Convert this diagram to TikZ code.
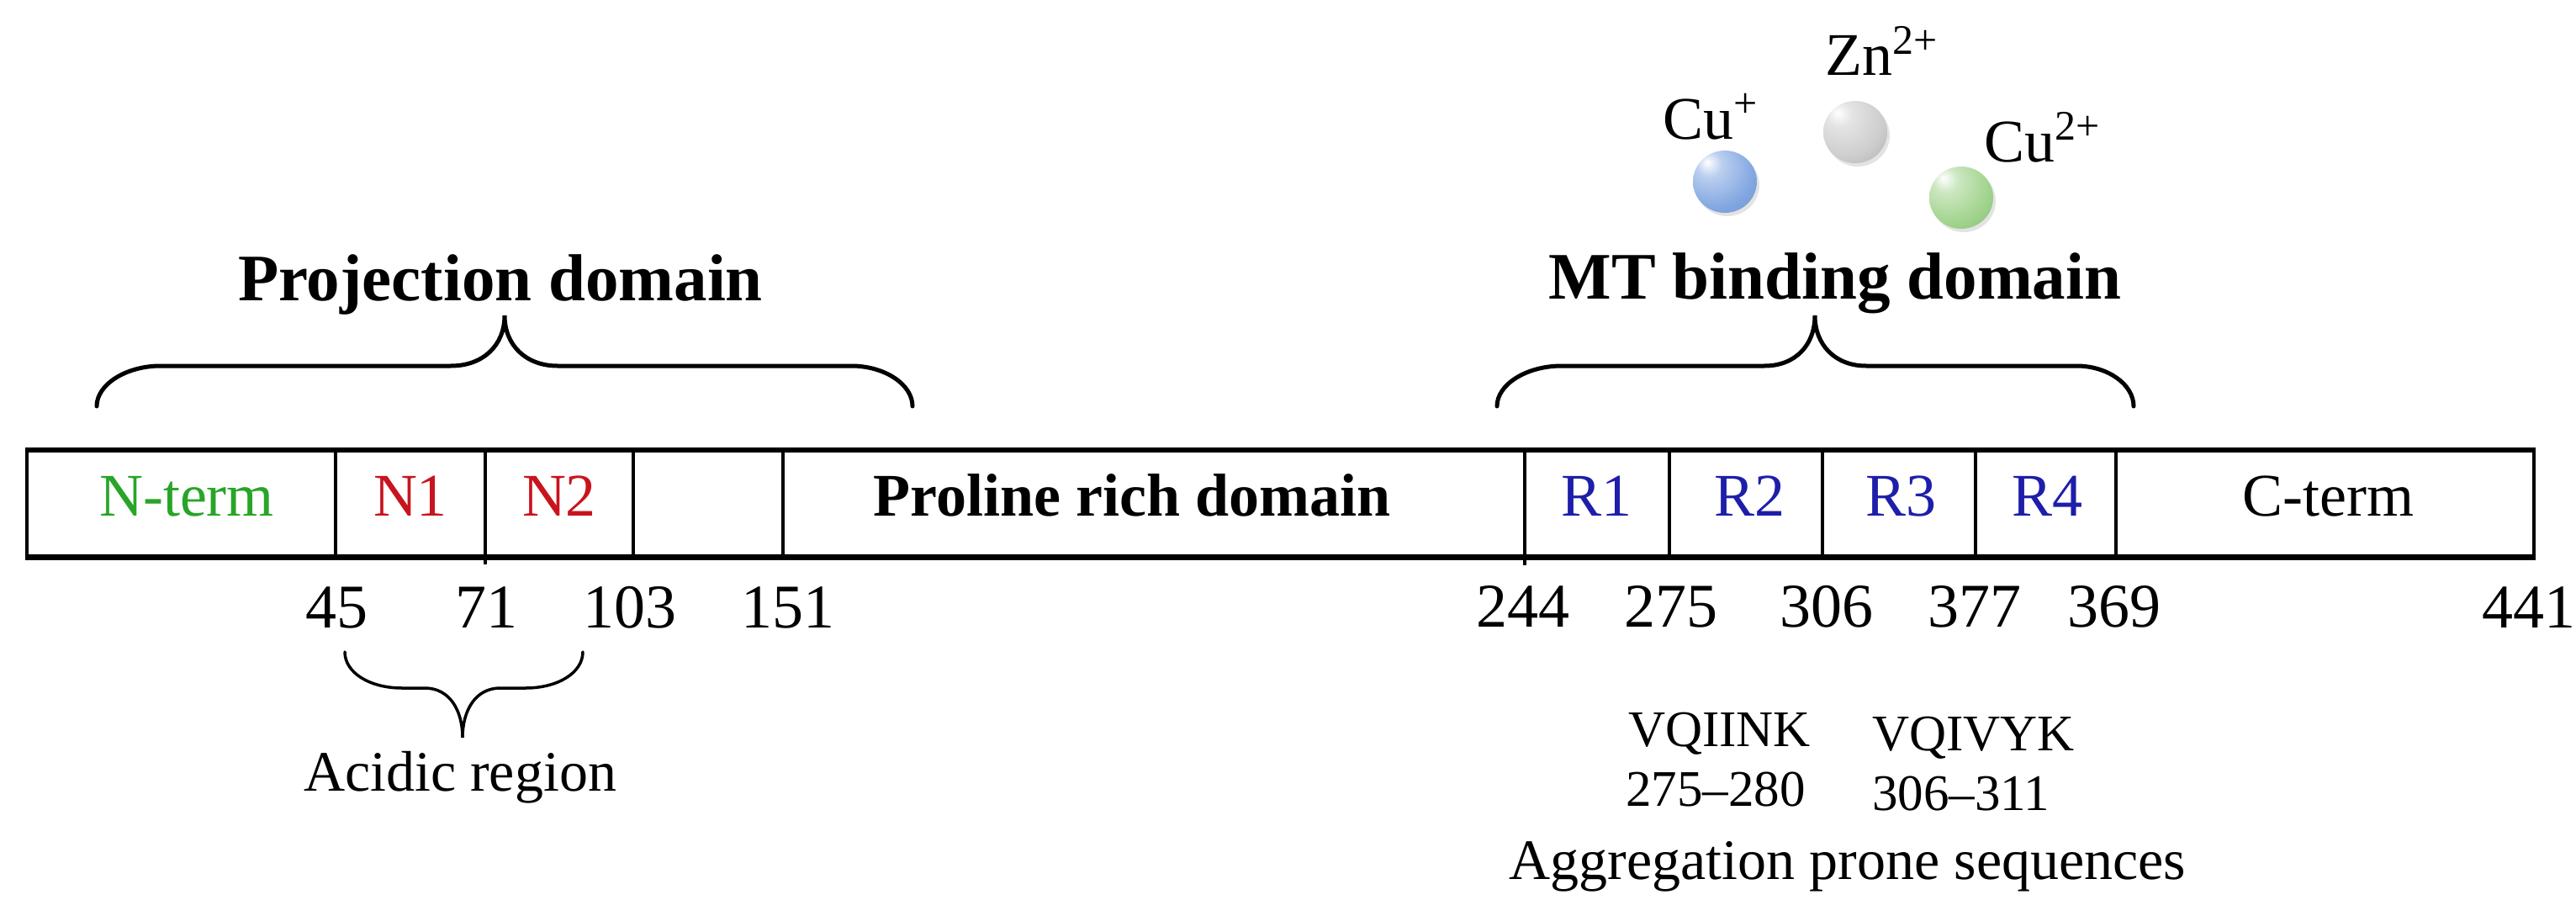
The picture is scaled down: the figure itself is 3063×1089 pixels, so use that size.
\documentclass[tikz,border=0pt]{standalone}
\usepackage{fontspec}
\setmainfont{Liberation Serif}
\usetikzlibrary{shadows}
\definecolor{ntgreen}{RGB}{40,165,40}
\definecolor{nred}{RGB}{200,20,30}
\definecolor{rblue}{RGB}{30,30,170}
\definecolor{ionblue}{RGB}{132,168,226}
\definecolor{ionbluedk}{RGB}{92,128,192}
\definecolor{iongray}{RGB}{205,205,205}
\definecolor{iongraydk}{RGB}{150,150,150}
\definecolor{iongreen}{RGB}{162,212,142}
\definecolor{iongreendk}{RGB}{112,172,96}
\pgfdeclareradialshading{sphblue}{\pgfpoint{-14bp}{16bp}}{color(0bp)=(white); color(10bp)=(ionblue!55!white); color(30bp)=(ionblue); color(58bp)=(ionbluedk); color(80bp)=(ionbluedk)}
\pgfdeclareradialshading{sphgray}{\pgfpoint{-14bp}{16bp}}{color(0bp)=(white); color(10bp)=(iongray!55!white); color(30bp)=(iongray); color(58bp)=(iongraydk); color(80bp)=(iongraydk)}
\pgfdeclareradialshading{sphgreen}{\pgfpoint{-14bp}{16bp}}{color(0bp)=(white); color(10bp)=(iongreen!55!white); color(30bp)=(iongreen); color(58bp)=(iongreendk); color(80bp)=(iongreendk)}
\newcommand{\supchg}[1]{\raisebox{0.36em}{\fontsize{50}{56}\selectfont #1}}
\tikzset{
  every node/.style={inner sep=0pt, outer sep=0pt},
  headtxt/.style={font=\fontsize{79}{90}\selectfont\bfseries, anchor=base},
  boxtxt/.style={font=\fontsize{72}{84}\selectfont, anchor=base},
  boldbox/.style={font=\fontsize{72}{84}\selectfont\bfseries, anchor=base},
  numtxt/.style={font=\fontsize{74}{86}\selectfont, anchor=base},
  smalltxt/.style={font=\fontsize{61}{72}\selectfont, anchor=base west},
  captxt/.style={font=\fontsize{68}{80}\selectfont, anchor=base},
  iontxt/.style={font=\fontsize{72}{84}\selectfont, anchor=base west},
  barline/.style={line width=6pt},
  divline/.style={line width=4.5pt},
  bracepath/.style={line width=5pt, line cap=round},
  ionball/.style={ellipse, minimum width=76pt, minimum height=74pt, shading=#1,
    drop shadow={opacity=0.22, shadow xshift=3pt, shadow yshift=-4pt}}
}
\usetikzlibrary{shapes.geometric}
\begin{document}
\begin{tikzpicture}[x=1pt, y=-1pt]
\useasboundingbox[fill=white] (0,0) rectangle (3063,1089);

% ions
\node[ionball=sphgray] (zn) at (2206,157) {};
\node[ionball=sphblue] (cup) at (2051,216) {};
\node[ionball=sphgreen] (cutwo) at (2332,235) {};
\node[iontxt] (cuplab) at (1977,165) {Cu\supchg{+}};
\node[iontxt] (znlab) at (2170,90) {Zn\supchg{2+}};
\node[iontxt] (cutwolab) at (2359,192) {Cu\supchg{2+}};

% headings
\node[headtxt] (proj) at (595,357) {Projection domain};
\node[headtxt] (mtb) at (2182,355) {MT binding domain};

% braces
\draw[bracepath] (115,483) .. controls (115,457) and (150,435) .. (191,435)
  -- (536,435) .. controls (575,435) and (600,410) .. (600,375)
  .. controls (600,410) and (625,435) .. (663,435)
  -- (1012,435) .. controls (1052,435) and (1085,457) .. (1085,483);
\draw[bracepath] (1780,483) .. controls (1780,457) and (1815,435) .. (1857,435)
  -- (2098,435) .. controls (2135,435) and (2158,410) .. (2158,375)
  .. controls (2158,410) and (2182,435) .. (2219,435)
  -- (2469,435) .. controls (2506,435) and (2537,457) .. (2537,483);
\draw[bracepath, line width=3.5pt] (410,775) .. controls (410,800) and (440,818) .. (478,818)
  -- (505,818) .. controls (535,818) and (550,845) .. (550,877)
  .. controls (550,845) and (565,818) .. (595,818)
  -- (625,818) .. controls (663,818) and (693,800) .. (693,775);

% bar
\draw[divline] (399,535) -- (399,662);
\draw[divline] (577,535) -- (577,671);
\draw[divline] (753,535) -- (753,662);
\draw[divline] (931,535) -- (931,662);
\draw[divline] (1813,535) -- (1813,672);
\draw[divline] (1985,535) -- (1985,662);
\draw[divline] (2167,535) -- (2167,662);
\draw[divline] (2349,535) -- (2349,662);
\draw[divline] (2516,535) -- (2516,662);
\draw[divline] (32,535) -- (32,662);
\draw[divline] (3013,535) -- (3013,662);
\draw[barline] (29.75,535) -- (3015.25,535);
\draw[barline, line width=7pt] (29.75,662) -- (3015.25,662);

% box labels
\node[boxtxt, text=ntgreen] (nterm) at (222,613) {N-term};
\node[boxtxt, text=nred] (none) at (488,613) {N1};
\node[boxtxt, text=nred] (ntwo) at (665,613) {N2};
\node[boldbox] (pro) at (1346,613) {Proline rich domain};
\node[boxtxt, text=rblue] (rone) at (1898,613) {R1};
\node[boxtxt, text=rblue] (rtwo) at (2080,613) {R2};
\node[boxtxt, text=rblue] (rthree) at (2260,613) {R3};
\node[boxtxt, text=rblue] (rfour) at (2434,613) {R4};
\node[boxtxt] (cterm) at (2768,613) {C-term};

% numbers
\node[numtxt] (n45) at (400,746) {45};
\node[numtxt] (n71) at (578,746) {71};
\node[numtxt] (n103) at (749,746) {103};
\node[numtxt] (n151) at (937,746) {151};
\node[numtxt] (n244) at (1811,745) {244};
\node[numtxt] (n275) at (1987,745) {275};
\node[numtxt] (n306) at (2172,745) {306};
\node[numtxt] (n377) at (2348,745) {377};
\node[numtxt] (n369) at (2514,745) {369};
\node[numtxt, anchor=base east] (n441) at (3062,746) {441};

% captions
\node[captxt] (acid) at (547,940) {Acidic region};
\node[smalltxt] (seqa) at (1936,887) {VQIINK};
\node[smalltxt] (seqanum) at (1933,958) {275–280};
\node[smalltxt] (seqb) at (2226,892) {VQIVYK};
\node[smalltxt] (seqbnum) at (2226,963) {306–311};
\node[captxt] (aggr) at (2197,1045) {Aggregation prone sequences};
\end{tikzpicture}
\end{document}
